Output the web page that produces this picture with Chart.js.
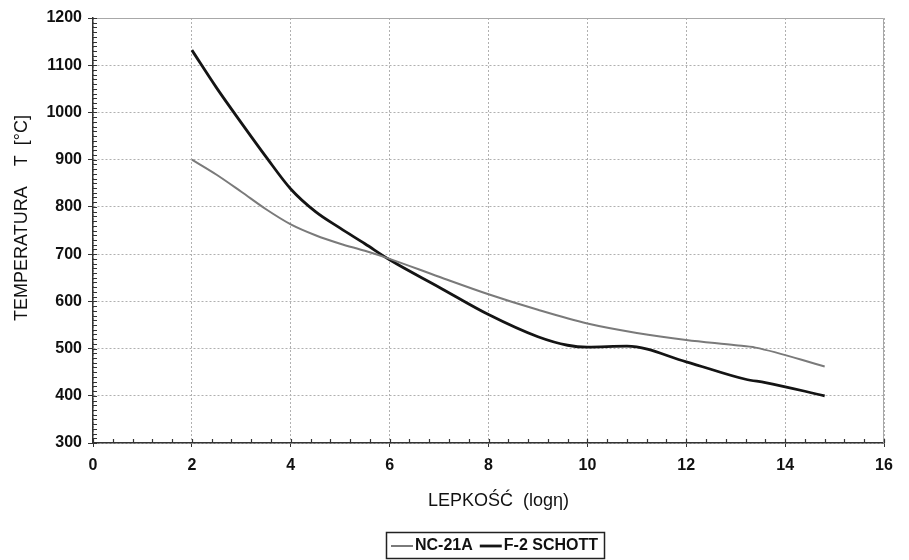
<!DOCTYPE html>
<html>
<head>
<meta charset="utf-8">
<script src="https://cdn.jsdelivr.net/npm/chart.js@4/dist/chart.umd.min.js"></script>
<style>
html,body{margin:0;padding:0;background:#fff;}
#wrap{width:909px;height:560px;}
</style>
</head>
<body>
<div id="wrap"><canvas id="c" width="909" height="560"></canvas></div>
<script>
// Data
const seriesNames = ['NC-21A', 'F-2 SCHOTT'];
const ncX = [2, 2.5, 3, 3.5, 4, 4.5, 5, 5.5, 6, 7, 8, 9, 10, 11, 12, 13, 13.4, 14.8];
const ncY = [900, 868, 832, 795, 763, 740, 722, 707, 690, 652, 615, 582, 553, 533, 518, 507, 502, 462];
const f2X = [2, 2.5, 3, 3.5, 4, 4.5, 5, 5.5, 6, 7, 8, 9, 9.6, 10, 10.8, 12, 13.2, 13.6, 14.8];
const f2Y = [1132, 1052, 978, 906, 838, 790, 755, 722, 688, 630, 572, 525, 507, 503, 505, 472, 435, 428, 400];
const xTicks = [0, 2, 4, 6, 8, 10, 12, 14, 16];
const yTicks = [300, 400, 500, 600, 700, 800, 900, 1000, 1100, 1200];
const xTitle = '\u00a0\u00a0\u00a0\u00a0LEPKOŚĆ\u00a0\u00a0(logη)';
const yTitle = '\u00a0\u00a0\u00a0\u00a0\u00a0TEMPERATURA\u00a0\u00a0\u00a0\u00a0T\u00a0\u00a0[°C]';

const toPts = (xs, ys) => xs.map((x, i) => ({x: x, y: ys[i]}));

const FONT = "'Liberation Sans', Arial, sans-serif";

const framePlugin = {
  id: 'frame',
  beforeDatasetsDraw(chart) {
    const {ctx, chartArea: a, scales} = chart;
    ctx.save();
    ctx.strokeStyle = '#a8a8a8';
    ctx.lineWidth = 1;
    ctx.beginPath();
    ctx.moveTo(a.left, a.top + 0.5);
    ctx.lineTo(a.right - 0.5, a.top + 0.5);
    ctx.lineTo(a.right - 0.5, a.bottom);
    ctx.stroke();
    // minor ticks (inward)
    ctx.strokeStyle = '#333';
    ctx.lineWidth = 1.2;
    ctx.beginPath();
    const xs = scales.x;
    for (let v = 0; v <= 16.001; v += 0.4) {
      const px = Math.round(xs.getPixelForValue(v)) + 0.5;
      ctx.moveTo(px, a.bottom);
      ctx.lineTo(px, a.bottom - 4);
    }
    const ys = scales.y;
    for (let v = 300; v <= 1200; v += 10) {
      const py = Math.round(ys.getPixelForValue(v)) + 0.5;
      ctx.moveTo(a.left, py);
      ctx.lineTo(a.left + 4, py);
    }
    ctx.stroke();
    ctx.restore();
  },
  afterDraw(chart) {
    // boxed legend below the axis title
    const ctx = chart.ctx;
    const ds = chart.data.datasets;
    ctx.save();
    ctx.font = "bold 16px " + FONT;
    ctx.textBaseline = 'middle';
    const lineLen = 22, gapLine = 2, gapItem = 7, pad = 5;
    let total = pad;
    ds.forEach((d, i) => { total += lineLen + gapLine + ctx.measureText(d.label).width + (i < ds.length - 1 ? gapItem : 0); });
    total += pad + 1;
    const boxL = 386, boxT = 532, boxH = 26;
    const cy = boxT + boxH / 2 + 1;
    ctx.strokeStyle = '#222';
    ctx.lineWidth = 1.5;
    ctx.strokeRect(boxL + 0.5, boxT + 0.5, Math.round(total), boxH);
    let x = boxL + pad;
    ds.forEach((d, i) => {
      ctx.strokeStyle = d.borderColor;
      ctx.lineWidth = d.borderWidth;
      ctx.beginPath();
      ctx.moveTo(x, cy);
      ctx.lineTo(x + lineLen, cy);
      ctx.stroke();
      x += lineLen + gapLine;
      ctx.fillStyle = '#111';
      ctx.fillText(d.label, x, cy);
      x += ctx.measureText(d.label).width + gapItem;
    });
    ctx.restore();
  }
};

new Chart(document.getElementById('c'), {
  type: 'line',
  data: {
    datasets: [
      {label: seriesNames[0], data: toPts(ncX, ncY), borderColor: '#7a7a7a', backgroundColor: '#7a7a7a', borderWidth: 2, pointRadius: 0, cubicInterpolationMode: 'monotone', fill: false},
      {label: seriesNames[1], data: toPts(f2X, f2Y), borderColor: '#141414', backgroundColor: '#141414', borderWidth: 2.8, pointRadius: 0, cubicInterpolationMode: 'monotone', fill: false}
    ]
  },
  options: {
    responsive: false,
    animation: false,
    layout: {padding: {left: 0, right: 25, top: 18, bottom: 37}},
    plugins: {
      tooltip: {enabled: false},
      legend: {display: false}
    },
    scales: {
      x: {
        type: 'linear', min: 0, max: 16,
        afterBuildTicks: s => { s.ticks = xTicks.map(v => ({value: v})); },
        afterFit: s => { s.height = 80; },
        ticks: {font: {family: FONT, size: 16, weight: 'bold'}, color: '#111', padding: 9, maxRotation: 0, callback: v => String(v)},
        grid: {color: '#b0b0b0', lineWidth: 1, tickLength: 4, tickColor: '#333', tickBorderDash: []},
        border: {display: true, color: '#333', width: 1.5, dash: [2, 2]},
        title: {display: true, text: xTitle, font: {family: FONT, size: 18}, color: '#111', padding: {top: 4, bottom: 11}}
      },
      y: {
        type: 'linear', min: 300, max: 1200,
        afterBuildTicks: s => { s.ticks = yTicks.map(v => ({value: v})); },
        afterFit: s => { s.width = 93; },
        ticks: {font: {family: FONT, size: 16, weight: 'bold'}, color: '#111', padding: 6, callback: v => String(v)},
        grid: {color: '#b0b0b0', lineWidth: 1, tickLength: 5, tickColor: '#333', tickBorderDash: []},
        border: {display: true, color: '#333', width: 1.5, dash: [2, 2]},
        title: {display: true, text: yTitle, font: {family: FONT, size: 18}, color: '#111', padding: {top: 11, bottom: 4}}
      }
    }
  },
  plugins: [framePlugin]
});
</script>
</body>
</html>
